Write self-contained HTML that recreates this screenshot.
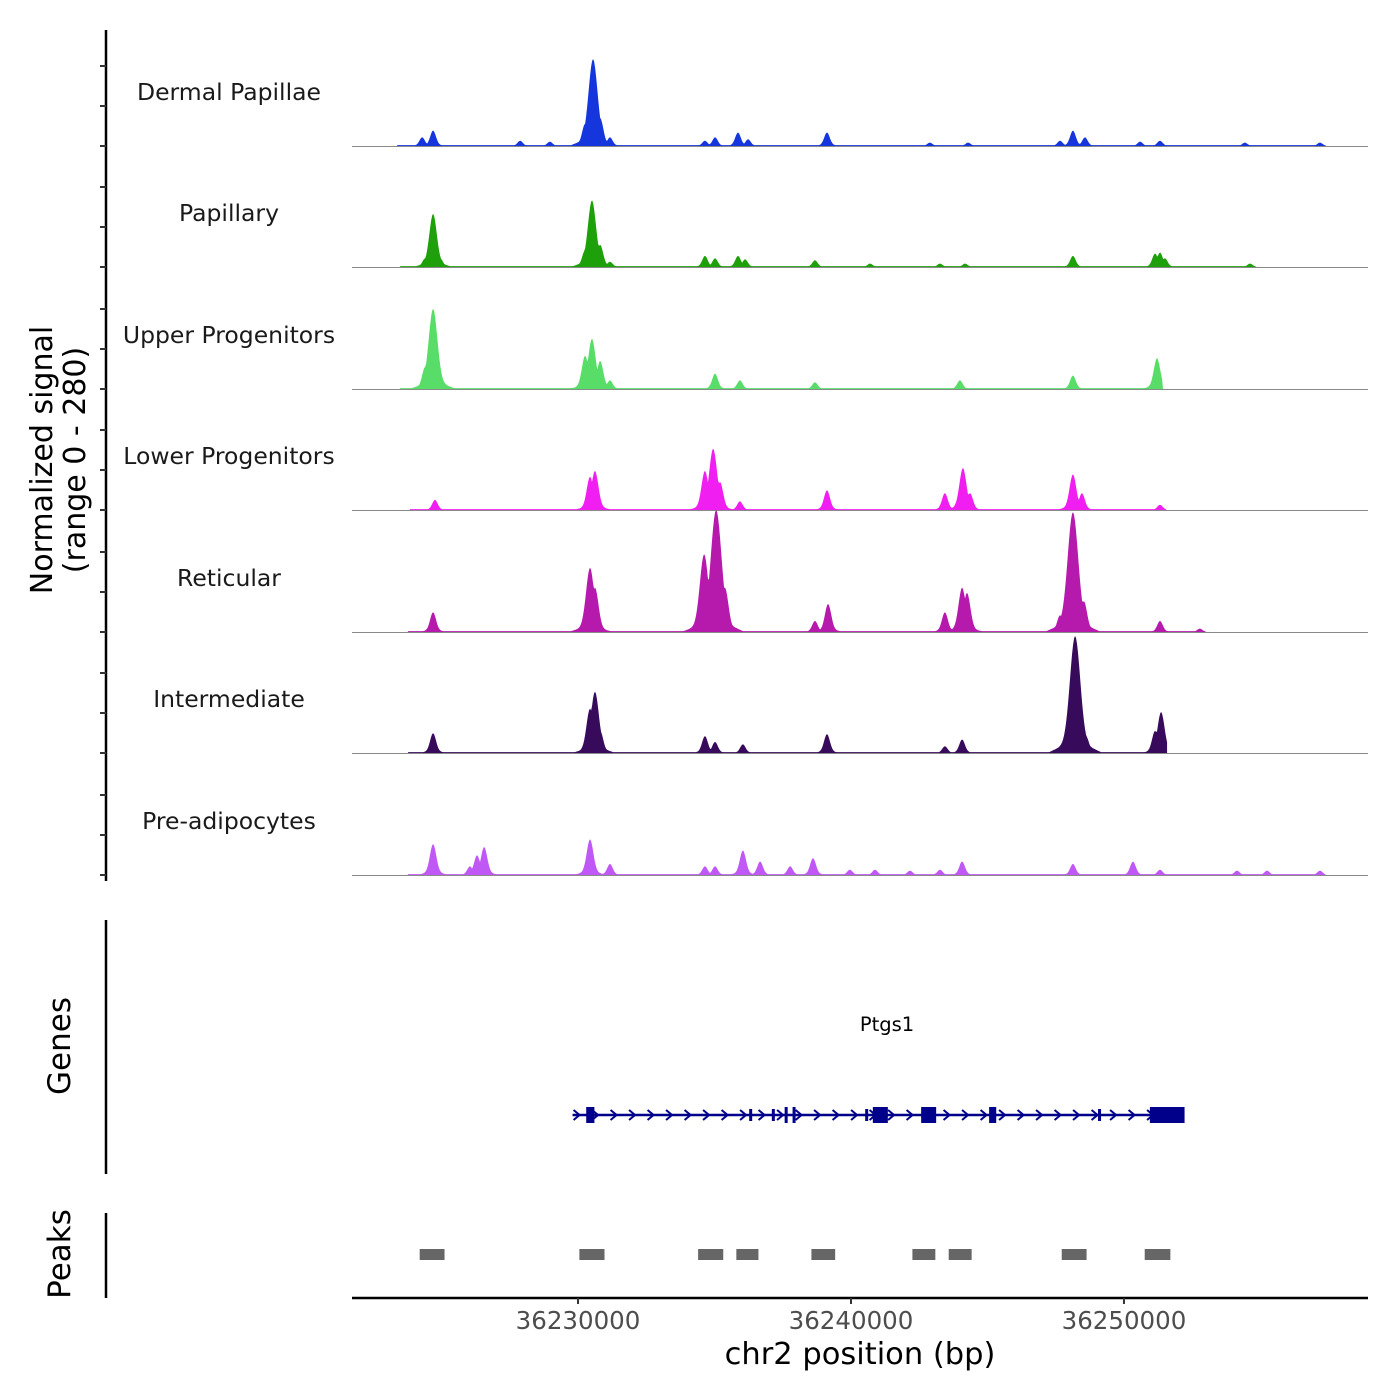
<!DOCTYPE html>
<html><head><meta charset="utf-8"><style>
body{margin:0;background:#fff}
svg{display:block;font-family:"DejaVu Sans","Liberation Sans",sans-serif}
</style></head><body>
<svg id="c" width="1400" height="1400" viewBox="0 0 1400 1400">
<rect width="1400" height="1400" fill="#fff"/>
</svg>
<script>
// ---- data ----
const trackNames = ["Dermal Papillae","Papillary","Upper Progenitors","Lower Progenitors","Reticular","Intermediate","Pre-adipocytes"];
const trackColors = ["#1536dd","#1ea00a","#58de68","#f01ef0","#b51aad","#380a5c","#c058f5"];
// peak positions (kb) and signal values per track
const dpPos = [36224.29,36224.69,36227.88,36228.97,36230.26,36230.55,36230.81,36231.17,36234.65,36235.02,36235.86,36236.23,36239.12,36242.89,36244.29,36247.66,36248.13,36248.57,36250.59,36251.32,36254.43,36257.18];
const dpVal = [18,32,11,9,46,180,58,18,11,18,28,14,28,7,7,11,32,18,9,11,7,7];
const paPos = [36224.40,36224.69,36224.95,36230.26,36230.51,36230.81,36231.17,36234.65,36235.02,36235.86,36236.12,36238.68,36240.70,36243.26,36244.18,36248.13,36251.14,36251.32,36251.50,36254.62];
const paVal = [18,110,18,35,138,46,11,23,18,23,16,14,7,7,7,23,28,30,18,7];
const upPos = [36224.40,36224.69,36224.95,36230.26,36230.51,36230.81,36231.17,36235.02,36235.93,36238.68,36243.99,36248.13,36251.21];
const upVal = [46,166,23,69,104,58,18,32,18,14,18,28,64];
const loPos = [36224.76,36230.44,36230.62,36234.65,36234.95,36235.20,36235.93,36239.12,36243.44,36244.10,36244.36,36248.13,36248.46,36251.32];
const loVal = [21,69,81,81,127,58,18,41,35,87,35,74,35,11];
const rePos = [36224.69,36230.44,36230.62,36234.62,36235.06,36235.38,36238.68,36239.16,36243.44,36244.07,36244.25,36247.66,36248.13,36248.53,36251.32,36252.78];
const reVal = [41,133,92,161,253,92,23,58,41,92,81,35,248,64,23,7];
const inPos = [36224.69,36230.44,36230.62,36230.81,36234.65,36235.02,36236.04,36239.12,36243.44,36244.07,36247.95,36248.21,36248.61,36251.14,36251.36];
const inVal = [41,92,127,46,35,23,18,39,14,28,46,242,35,46,85];
const adPos = [36224.69,36226.04,36226.30,36226.56,36230.44,36231.17,36234.65,36235.02,36236.04,36236.67,36237.77,36238.61,36239.96,36240.88,36242.16,36243.26,36244.07,36248.13,36250.33,36251.32,36254.14,36255.24,36257.18];
const adVal = [64,18,41,58,74,23,18,18,51,28,18,35,11,11,9,11,28,23,28,11,9,9,9];
const trackPos = [dpPos,paPos,upPos,loPos,rePos,inPos,adPos];
const trackVal = [dpVal,paVal,upVal,loVal,reVal,inVal,adVal];
const xTicks = [36230000,36240000,36250000];
const peakStarts = [36224.20,36230.05,36234.40,36235.80,36238.55,36242.25,36243.58,36247.72,36250.76];
const peakEnds = [36225.11,36230.97,36235.32,36236.61,36239.42,36243.09,36244.42,36248.63,36251.70];
const geneStart = 36229.80, geneEnd = 36252.20;
const exonStarts = [36230.30,36236.27,36237.10,36237.57,36237.86,36240.52,36240.80,36242.57,36245.06,36249.05,36250.95];
const exonEnds   = [36230.60,36236.38,36237.20,36237.68,36237.97,36240.63,36241.35,36243.12,36245.32,36249.16,36252.22];
const exonTall   = [1,0,0,1,1,0,1,1,1,0,1];

// ---- scales ----
const svg = document.getElementById('c');
const NS = "http://www.w3.org/2000/svg";
const X0=352, X1=1368, kbMin=36221.72, kbMax=36258.94;
function xs(kb){return X0+(kb-kbMin)/(kbMax-kbMin)*(X1-X0);}
const baselines=[146,267,389,510,632,753,875];
const trackH=121, maxSig=280;
function ys(v,b){return b - v/maxSig*trackH;}
function mk(tag,attrs,parent){const e=document.createElementNS(NS,tag);for(const k in attrs)e.setAttribute(k,attrs[k]);(parent||svg).appendChild(e);return e;}

let ax=mk('line',{x1:106,y1:30,x2:106,y2:881,stroke:'#000','stroke-width':2.5});


for(let i=0;i<7;i++){for(let j=0;j<3;j++){const y=baselines[i]-j*40;
 let t=mk('line',{x1:100,y1:y,x2:106,y2:y,stroke:'#333','stroke-width':2});
 
 }}
let yt=mk('text',{transform:'translate(52,460) rotate(-90)','text-anchor':'middle','font-size':30,fill:'#000'});


yt.innerHTML='<tspan x="0" dy="0">Normalized signal</tspan><tspan x="0" dy="33">(range 0 - 280)</tspan>';

for(let i=0;i<7;i++){
 const b=baselines[i], pos=trackPos[i], val=trackVal[i];
 const g=mk('g',{});
 
 
 let lab=mk('text',{x:229,y:b-46,'text-anchor':'middle','font-size':23.5,fill:'#1a1a1a'},g);
 lab.textContent=trackNames[i];
 
 
 const lo=xs(Math.min(...pos))-25, hi=xs(Math.max(...pos))+6;
 let d='M'+lo+','+b;
 for(let px=lo;px<=hi;px+=1){
  let v=2;
  for(let k=0;k<pos.length;k++){
   const dx=Math.abs(px-xs(pos[k]));
   const w=4.5+val[k]/50;
   if(dx<w*3){const vv=val[k]*Math.exp(-dx*dx/(w*w*0.6))+val[k]*0.12*(1-dx/(w*3)); if(vv>v)v=vv;}
  }
  d+='L'+px+','+ys(v,b).toFixed(1);
 }
 d+='L'+hi+','+b+'Z';
 let a=mk('path',{d:d,fill:trackColors[i]},g);
 
 
 let bl=mk('line',{x1:X0,y1:b+0.5,x2:X1,y2:b+0.5,stroke:'#8a8a8a','stroke-width':1},g);
 
 
}

let gl=mk('line',{x1:106,y1:920,x2:106,y2:1174,stroke:'#000','stroke-width':2.5});


let gt=mk('text',{transform:'translate(70,1046) rotate(-90)','text-anchor':'middle','font-size':31,fill:'#000'});
gt.textContent='Genes';


const gg=mk('g',{});


mk('line',{x1:xs(geneStart),y1:1115,x2:xs(geneEnd),y2:1115,stroke:'#00008b','stroke-width':2.5},gg);
for(let px=xs(geneStart)+4;px<xs(geneEnd)-30;px+=18.5){
 mk('path',{d:`M${px-3},${1110}L${px+3},${1115}L${px-3},${1120}`,fill:'none',stroke:'#00008b','stroke-width':2},gg);
}
for(let k=0;k<exonStarts.length;k++){
 const h=exonTall[k]?16:12;
 let r=mk('rect',{x:xs(exonStarts[k]),y:1115-h/2,width:Math.max(3,xs(exonEnds[k])-xs(exonStarts[k])),height:h,fill:'#00008b'},gg);
 
 
}
let gn=mk('text',{x:887,y:1031,'text-anchor':'middle','font-size':19.5,fill:'#000'});
gn.textContent='Ptgs1';



let pl=mk('line',{x1:106,y1:1213,x2:106,y2:1298,stroke:'#000','stroke-width':2.5});


let pt=mk('text',{transform:'translate(70,1254) rotate(-90)','text-anchor':'middle','font-size':31,fill:'#000'});
pt.textContent='Peaks';


for(let k=0;k<peakStarts.length;k++){
 let r=mk('rect',{x:xs(peakStarts[k]),y:1249,width:xs(peakEnds[k])-xs(peakStarts[k]),height:11,fill:'#666'});
 
 
}

let xl=mk('line',{x1:X0,y1:1298,x2:X1,y2:1298,stroke:'#000','stroke-width':2.5});


for(const t of xTicks){
 const x=xs(t/1000);
 let tk=mk('line',{x1:x,y1:1298,x2:x,y2:1304,stroke:'#333','stroke-width':2});
 
 
 let tl=mk('text',{x:x,y:1329,'text-anchor':'middle','font-size':24.5,fill:'#4d4d4d'});
 tl.textContent=String(t);
 
 
}
let xt=mk('text',{x:860,y:1364,'text-anchor':'middle','font-size':30.5,fill:'#000'});
xt.textContent='chr2 position (bp)';


</script>
</body></html>
